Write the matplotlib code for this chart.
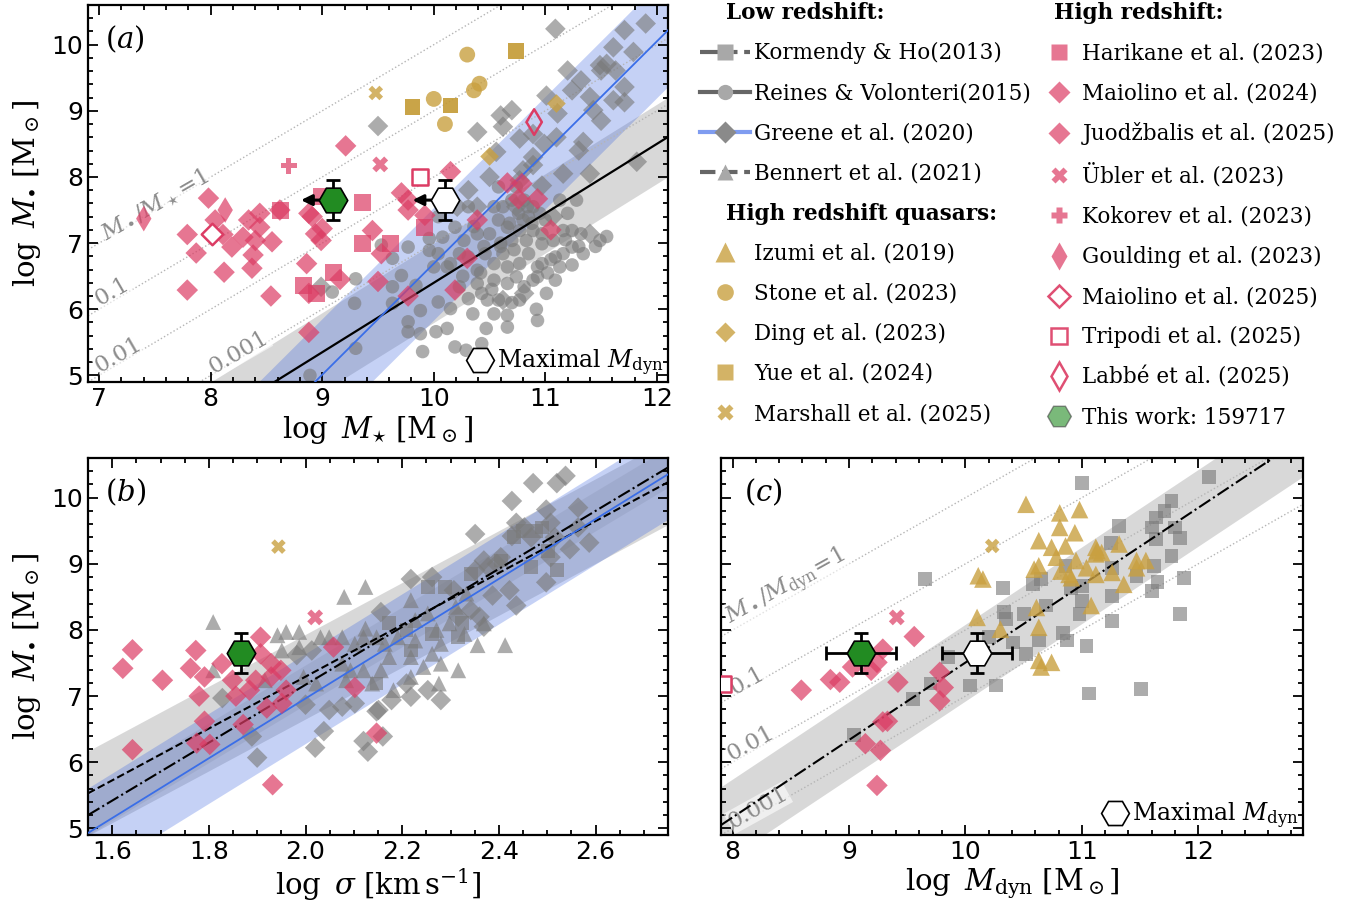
import numpy as np
import matplotlib
matplotlib.use('Agg')
import matplotlib.pyplot as plt
from matplotlib.lines import Line2D

plt.rcParams['font.family'] = ['DejaVu Serif']
plt.rcParams['mathtext.fontset'] = 'dejavuserif'

##################################################################### colours / styles
PINK = '#dc3c64'
GOLD = '#c9a040'
GRAY = '#7a7a7a'
BLUE = '#3a6ee8'
GREEN = '#228b22'

##################################################################### panel (a) data : log Mstar vs log Mbh
a_rv15_x = [9.30, 9.29, 9.09, 9.30, 8.89, 9.53, 9.63, 9.77, 9.71, 9.63, 9.63, 9.77, 9.77, 9.88, 9.84, 9.88,
            9.90, 10.02, 10.12, 10.04, 10.15, 10.00, 9.96, 9.96, 10.08, 10.19, 10.12, 10.27, 10.31, 10.39,
            10.39, 10.43, 10.31, 10.35, 10.19, 10.29, 10.43, 10.66, 10.66, 10.93, 10.48, 10.54, 10.46, 10.50,
            10.58, 10.62, 10.70, 10.76, 10.77, 10.70, 10.62, 10.66, 10.74, 10.81, 10.89, 10.93, 10.85, 10.97,
            10.89, 10.85, 11.00, 11.07, 11.09, 11.13, 11.24, 11.16, 11.24, 11.32, 11.16, 11.20, 11.28, 11.34,
            11.49, 11.01, 11.09, 10.58, 10.31, 10.04, 10.77, 10.54, 10.47, 10.23, 10.23, 10.15, 10.54, 10.77,
            10.97, 10.89, 10.74, 10.83, 10.97, 10.66, 10.39, 10.54, 10.81, 10.66, 10.93, 10.58, 11.24, 11.13,
            10.04, 11.45, 11.55, 10.60, 10.72, 10.88, 11.05, 10.45, 10.68, 10.80, 10.95, 11.02, 10.52, 10.36,
            10.60, 10.84, 11.18, 10.70, 10.92, 10.42, 10.26, 11.30]
a_rv15_y = [6.46, 6.09, 6.26, 5.41, 5.00, 6.97, 6.77, 6.94, 6.51, 6.34, 6.09, 5.81, 5.66, 5.98, 6.36, 5.63,
            5.36, 5.66, 5.71, 6.11, 6.01, 6.64, 6.89, 7.07, 7.09, 7.24, 6.64, 7.04, 6.79, 6.59,
            6.39, 6.24, 6.16, 5.93, 5.43, 5.38, 5.48, 5.91, 5.73, 5.83, 6.14, 6.44, 6.84, 7.14,
            7.35, 7.55, 7.65, 7.45, 7.19, 7.04, 6.84, 6.64, 6.49, 6.34, 6.44, 6.64, 6.84, 6.99,
            7.19, 7.40, 7.35, 7.04, 6.79, 6.64, 6.67, 6.84, 6.94, 7.14, 7.19, 7.45, 7.65, 6.84,
            7.04, 6.24, 6.44, 7.85, 7.55, 7.40, 6.14, 5.93, 5.71, 6.34, 6.84, 6.69, 6.69, 6.69,
            6.69, 7.55, 7.85, 7.04, 7.14, 6.39, 7.14, 7.55, 7.65, 7.24, 6.49, 6.14, 7.19, 7.65,
            6.84, 6.95, 7.10, 7.00, 6.90, 7.30, 6.75, 6.95, 7.30, 7.35, 7.45, 6.55, 6.30, 7.25,
            6.95, 7.55, 7.05, 6.10, 6.00, 6.55, 6.50, 6.95]
a_gr20_x = [9.50, 10.39, 10.60, 10.70, 10.62, 10.77, 10.56, 10.89, 11.01, 10.99, 11.10, 11.11, 11.20, 11.24,
            11.32, 11.40, 11.43, 11.50, 11.55, 11.61, 11.71, 11.90, 11.79, 11.63, 11.71, 11.71, 11.61, 11.49,
            11.34, 11.40, 11.16, 10.89, 10.77, 10.50, 10.31, 10.21, 10.39, 10.74, 10.97, 11.09, 10.89, 11.82,
            11.40, 10.81, 10.62, 8.99, 11.07, 10.80, 11.30, 11.50]
a_gr20_y = [8.77, 8.68, 8.93, 9.01, 8.76, 8.58, 8.38, 8.65, 9.23, 8.50, 8.60, 8.96, 9.61, 9.31,
            9.46, 9.21, 9.01, 9.61, 9.71, 9.96, 10.22, 10.32, 9.89, 9.61, 9.36, 9.13, 9.16, 9.69,
            8.53, 8.05, 8.05, 8.18, 7.95, 8.00, 7.80, 7.55, 7.55, 7.55, 7.87, 10.24, 8.30, 8.23,
            7.14, 6.24, 6.14, 6.34, 7.40, 8.10, 8.40, 8.85]

a_pink_dia_x = [7.79, 7.87, 7.79, 7.98, 8.04, 8.11, 8.19, 8.12, 8.29, 8.34, 8.44, 8.44, 8.40, 8.38, 8.37,
                8.55, 8.54, 8.62, 8.86, 8.88, 8.91, 8.94, 8.99, 9.00, 8.88, 9.16, 9.21, 8.88, 9.45, 9.50,
                9.53, 9.71, 9.77, 9.77, 9.92, 10.15, 9.77, 10.19, 10.30, 10.39, 10.66, 10.76, 10.93, 11.05,
                10.79]
a_pink_dia_y = [7.13, 6.85, 6.29, 7.68, 7.35, 7.13, 6.94, 6.56, 7.09, 7.35, 7.45, 7.24, 7.04, 6.82, 6.62,
                7.02, 6.20, 7.50, 6.69, 7.45, 7.40, 7.14, 7.04, 7.22, 6.24, 6.45, 8.47, 5.65, 7.19, 6.42,
                6.84, 7.76, 7.50, 7.65, 7.42, 8.08, 6.20, 6.29, 6.77, 7.35, 7.91, 7.67, 7.67, 7.20,
                7.90]
a_pink_sq_x = [8.63, 8.99, 9.36, 9.36, 9.61, 9.10, 8.83, 8.95, 9.92]
a_pink_sq_y = [7.50, 7.71, 7.62, 6.99, 6.99, 6.56, 6.36, 6.24, 7.24]
a_ubler = ([9.52], [8.19])
a_kokorev = ([8.70], [8.17])
a_goulding = ([8.13, 7.40], [7.50, 7.37])
a_maiolino25 = ([8.01], [7.14])
a_tripodi = ([9.88], [8.00])
a_labbe = ([10.90], [8.83])
a_stone = ([10.30, 10.00, 10.36, 10.41, 10.10], [9.85, 9.18, 9.31, 9.41, 8.80])
a_yue = ([10.74, 9.81, 10.15], [9.90, 9.06, 9.08])
a_ding = ([10.50, 11.10], [8.31, 9.11])
a_marshall = ([9.48], [9.27])

##################################################################### panel (b) data : log sigma vs log Mbh
b_pink_dia_x = [1.622, 1.642, 1.704, 1.642, 1.762, 1.773, 1.791, 1.780, 1.791, 1.775, 1.802, 1.827, 1.849,
                1.856, 1.871, 1.907, 1.907, 1.884, 1.897, 1.920, 1.929, 1.929, 1.949, 1.951, 1.960, 1.932,
                2.058, 2.102, 2.147]
b_pink_dia_y = [7.42, 7.70, 7.24, 6.19, 7.42, 7.69, 7.29, 7.00, 6.62, 6.29, 6.27, 7.49, 7.24,
                7.00, 6.57, 7.89, 7.64, 7.09, 7.24, 6.82, 7.49, 7.29, 7.39, 6.89, 7.09, 5.66,
                7.74, 7.13, 6.44]
b_ubler = ([2.02], [8.19])
b_marshall = ([1.944], [9.26])
b_be21_x = [1.809, 2.124, 2.080, 2.031, 1.987, 1.960, 1.942, 1.951, 1.987, 2.049, 2.076, 2.102, 2.124, 2.147,
            2.164, 2.191, 2.218, 2.227, 2.253, 2.271, 2.280, 2.298, 2.311, 2.329, 2.356, 2.413, 2.276, 2.280,
            2.244, 2.218, 2.173, 2.156, 2.138, 2.120, 2.093, 2.084, 2.076, 2.022, 1.996, 1.916, 1.809, 2.218,
            2.182, 2.316, 2.262, 2.120, 2.227, 2.369, 2.333]
b_be21_y = [8.12, 8.65, 8.50, 7.89, 7.97, 7.97, 7.92, 7.69, 7.74, 7.89, 7.89, 7.79, 8.02, 7.89,
            7.79, 7.89, 8.45, 8.15, 8.25, 8.00, 7.79, 8.10, 8.35, 7.94, 7.77, 7.77, 7.19, 7.49,
            7.44, 7.59, 7.59, 7.39, 7.19, 7.39, 7.39, 7.24, 7.49, 7.19, 7.29, 7.24, 7.39, 7.29,
            7.09, 7.39, 7.64, 7.89, 7.84, 8.10, 8.55]
b_gr20_x = [1.828, 1.900, 1.889, 2.020, 2.038, 2.049, 2.000, 2.076, 2.102, 2.129, 2.120, 2.151, 2.147, 2.160,
            2.178, 2.218, 2.253, 2.280, 2.209, 1.982, 2.013, 2.156, 2.218, 2.262, 2.307, 2.316, 2.342, 2.351,
            2.378, 2.360, 2.369, 2.387, 2.404, 2.422, 2.436, 2.351, 2.427, 2.436, 2.427, 2.453, 2.467, 2.498,
            2.507, 2.516, 2.498, 2.507, 2.520, 2.471, 2.538, 2.547, 2.564, 2.587, 2.564, 2.369, 2.396]
b_gr20_y = [6.97, 6.07, 6.39, 6.22, 6.47, 6.79, 6.87, 6.84, 6.89, 6.16, 6.32, 6.79, 6.77, 6.39,
            6.94, 6.99, 7.09, 6.94, 7.19, 7.62, 7.69, 8.27, 8.77, 8.80, 8.60, 8.20, 8.30, 8.90,
            8.95, 8.20, 8.05, 8.52, 9.10, 8.60, 8.37, 9.45, 9.95, 9.62, 9.42, 9.55, 9.40, 9.82,
            9.62, 9.40, 8.72, 9.10, 10.22, 10.22, 10.33, 9.22, 9.85, 9.32, 9.55, 9.05, 9.00]
b_kh13_x = [2.431, 2.449, 2.467, 2.502, 2.404, 2.342, 2.253, 2.262, 2.209, 2.173, 2.316, 2.476, 2.489, 2.520,
            2.147, 2.289, 2.218, 2.324]
b_kh13_y = [9.40, 9.50, 8.95, 9.20, 9.05, 8.85, 8.65, 7.94, 8.00, 8.10, 7.89, 9.50, 9.55, 8.90,
            7.19, 8.65, 7.69, 8.10]

##################################################################### panel (c) data : log Mdyn vs log Mbh
c_gray_sq_x = [11.00, 12.09, 11.77, 11.32, 11.64, 11.71, 11.60, 11.80, 11.84, 11.64, 11.25, 11.77, 11.62, 11.47,
               11.88, 11.65, 11.60, 11.26, 11.26, 11.26, 11.84, 11.00, 11.00, 10.98, 10.91, 10.86, 10.84, 10.87,
               11.04, 10.69, 10.63, 10.65, 10.58, 10.50, 10.52, 10.33, 10.32, 10.35, 10.41, 10.20, 9.65, 9.85,
               9.70, 9.55, 10.04, 10.26, 11.06, 11.51, 9.04]
c_gray_sq_y = [10.22, 10.31, 9.95, 9.57, 9.70, 9.80, 9.55, 9.55, 9.39, 9.37, 9.32, 9.12, 8.97, 8.82,
               8.78, 8.72, 8.59, 8.94, 8.52, 8.14, 8.24, 8.67, 8.44, 8.24, 8.64, 8.97, 7.96, 7.84,
               7.76, 8.37, 7.84, 8.77, 8.69, 8.24, 7.64, 8.27, 8.64, 8.17, 7.81, 7.89, 8.77, 7.59,
               7.19, 6.96, 7.16, 7.16, 7.04, 7.11, 6.41]
c_izumi_x = [10.52, 10.81, 10.98, 10.81, 10.94, 10.63, 10.74, 10.86, 10.78, 11.12, 11.13, 11.12, 11.17, 11.32,
             11.47, 11.55, 11.47, 10.95, 11.04, 10.89, 10.63, 10.59, 10.11, 10.15, 10.82, 11.12, 11.26, 11.36,
             11.08, 10.61, 10.10, 10.30, 10.63, 10.63, 10.74, 10.65, 10.91]
c_izumi_y = [9.90, 9.77, 9.82, 9.55, 9.47, 9.35, 9.25, 9.27, 9.10, 9.25, 9.20, 9.15, 9.17, 9.30,
             9.05, 9.05, 8.94, 9.05, 8.94, 8.84, 8.97, 8.92, 8.82, 8.77, 8.89, 8.84, 8.87, 8.69,
             8.37, 8.34, 8.19, 8.01, 8.04, 7.54, 7.51, 7.44, 8.79]
c_marshall = ([10.23], [9.27])
c_ubler = ([9.41], [8.19])
c_pink_dia_x = [9.56, 9.29, 9.24, 9.19, 9.03, 8.84, 8.92, 8.59, 9.42, 9.78, 9.81, 9.78, 9.29, 9.33, 9.14,
                9.27, 9.24]
c_pink_dia_y = [7.90, 7.71, 7.51, 7.39, 7.44, 7.25, 7.21, 7.09, 7.21, 7.36, 7.13, 6.93, 6.61, 6.62, 6.28,
                6.18, 5.65]
c_tripodi = ([7.92], [7.18])

##################################################################### this work (159717)
this_bh = 7.65
this_bh_err = 0.3
this_mstar = 9.10
this_mdyn_max = 10.10
this_mdyn = 9.10
this_mdyn_err = 0.3
this_logsigma = 1.867

##################################################################### scaling relations  (slope, pivot x, value at pivot, scatter)
rv15 = (1.05, 11.0, 7.45, 0.60)
gr20_mstar = (1.68, 12.0, 10.05, 0.85)
kh13_sigma = (4.38, 2.301, 8.49, 0.30)
be21_sigma = (3.92, 1.55, 5.53, 0.64)
gr20_sigma = (4.52, 1.55, 4.93, 0.68)
mdyn_rel = (1.17, 7.9, 5.05, 0.58)

ratio_levels = [0, -1, -2, -3]
ratio_names = ['1', '0.1', '0.01', '0.001']

##################################################################################################
fig = plt.figure(figsize=(13.59, 9.10), dpi=100)
W, H = 1359.0, 910.0
ax_a = fig.add_axes([88 / W, 1 - 382 / H, 580 / W, 377 / H])
ax_b = fig.add_axes([88 / W, 1 - 835 / H, 580 / W, 377 / H])
ax_c = fig.add_axes([721 / W, 1 - 835 / H, 582 / W, 377 / H])

pk = dict(color=PINK, alpha=0.7, edgecolors='none')
gd = dict(color=GOLD, alpha=0.8, edgecolors='none')
gy = dict(color=GRAY, alpha=0.62, edgecolors='none')


def relation(ax, rel, xlim, color, ls, lw, band_color, band_alpha, z=3):
    slope, x0, y0, sc = rel
    xx = np.linspace(xlim[0], xlim[1], 50)
    yy = y0 + slope * (xx - x0)
    if band_color is not None:
        ax.fill_between(xx, yy - sc, yy + sc, color=band_color, alpha=band_alpha, lw=0, zorder=0)
    if color is not None:
        ax.plot(xx, yy, color=color, ls=ls, lw=lw, zorder=z)


def ratio_lines(ax, xlim, label_pos, first_label):
    xx = np.array(xlim)
    for lev in ratio_levels:
        ax.plot(xx, xx + lev, color='#b5b5b5', ls=':', lw=1.0, zorder=1)
    for (lx, ly, rot), nm in zip(label_pos, [first_label] + ratio_names[1:]):
        ax.text(lx, ly, nm, rotation=rot, color='#8c8c8c', fontsize=16.5, ha='center', va='center',
                zorder=2, bbox=dict(facecolor='white', edgecolor='none', alpha=0.6, pad=0.5))


def style(ax, xlim, xmaj, xmin):
    ax.set_xlim(*xlim)
    ax.set_ylim(4.9, 10.6)
    ax.set_xticks(np.arange(np.ceil(xlim[0] / xmaj) * xmaj, xlim[1] + 1e-6, xmaj))
    ax.xaxis.set_minor_locator(plt.MultipleLocator(xmin))
    ax.set_yticks([5, 6, 7, 8, 9, 10])
    ax.yaxis.set_minor_locator(plt.MultipleLocator(0.2))
    ax.tick_params(which='both', direction='in', top=True, right=True, labelsize=18,
                   labelfontfamily='DejaVu Sans', width=1.3)
    ax.tick_params(which='major', length=7)
    ax.tick_params(which='minor', length=3.5)
    for s in ax.spines.values():
        s.set_linewidth(1.6)


def this_work(ax, x, open_x=None, xerr=None, arrows=False):
    ax.errorbar(x, this_bh, yerr=this_bh_err, xerr=xerr, fmt='none', ecolor='k', elinewidth=2,
                capsize=5, capthick=2, zorder=7)
    ax.scatter([x], [this_bh], marker='H', s=420, color=GREEN, edgecolors='k', linewidths=1.2, zorder=8)
    if open_x is not None:
        ax.errorbar(open_x, this_bh, yerr=this_bh_err, xerr=xerr, fmt='none', ecolor='k', elinewidth=2,
                    capsize=5, capthick=2, zorder=7)
        ax.scatter([open_x], [this_bh], marker='H', s=420, color='white', edgecolors='k', linewidths=1.2,
                   zorder=8)
    if arrows:
        for xx in [x, open_x]:
            ax.annotate('', xy=(xx - 0.29, this_bh), xytext=(xx, this_bh),
                        arrowprops=dict(arrowstyle='-|>', color='k', lw=2.2, mutation_scale=16,
                                        shrinkA=0, shrinkB=0), zorder=6)


def maximal_key(ax):
    h = Line2D([], [], ls='none', marker='H', markersize=20, markerfacecolor='white',
               markeredgecolor='k', markeredgewidth=1.2)
    ax.legend([h], [r'Maximal $M_{\mathrm{dyn}}$'], loc='lower right', frameon=False, fontsize=17,
              handletextpad=0.15, borderaxespad=0.05, borderpad=0.1, handlelength=1.2)


########################################################################################## panel (a)
xa = (6.9, 12.1)
relation(ax_a, rv15, xa, 'k', '-', 1.6, '#808080', 0.3)
relation(ax_a, gr20_mstar, xa, BLUE, '-', 1.3, 'royalblue', 0.3)
ratio_lines(ax_a, xa, [(7.5, 7.58, 30), (7.12, 6.27, 30), (7.17, 5.31, 30), (8.25, 5.35, 30)],
            r'$M_\bullet/M_\star\!=\!1$')
ax_a.scatter(a_rv15_x, a_rv15_y, marker='o', s=95, **gy, zorder=2)
ax_a.scatter(a_gr20_x, a_gr20_y, marker='D', s=110, **gy, zorder=2)
ax_a.scatter(a_pink_dia_x, a_pink_dia_y, marker='D', s=120, **pk, zorder=4)
ax_a.scatter(a_pink_sq_x, a_pink_sq_y, marker='s', s=150, **pk, zorder=4)
ax_a.scatter(*a_ubler, marker='X', s=130, **pk, zorder=4)
ax_a.scatter(*a_kokorev, marker='P', s=130, **pk, zorder=4)
ax_a.scatter(*a_goulding, marker='d', s=170, **pk, zorder=4)
ax_a.scatter(*a_maiolino25, marker='D', s=120, facecolors='white', edgecolors=PINK, linewidths=1.8, zorder=4)
ax_a.scatter(*a_tripodi, marker='s', s=130, facecolors='white', edgecolors=PINK, linewidths=1.8, zorder=4)
ax_a.scatter(*a_labbe, marker='d', s=170, facecolors='none', edgecolors=PINK, linewidths=1.8, zorder=4)
ax_a.scatter(*a_stone, marker='o', s=130, **gd, zorder=4)
ax_a.scatter(*a_yue, marker='s', s=130, color='#c49a34', alpha=0.9, edgecolors='none', zorder=4)
ax_a.scatter(*a_ding, marker='D', s=90, **gd, zorder=4)
ax_a.scatter(*a_marshall, marker='X', s=110, **gd, zorder=4)
this_work(ax_a, this_mstar, open_x=this_mdyn_max, arrows=True)
style(ax_a, xa, 1, 0.2)
ax_a.set_xlabel(r'$\log\ M_{\star}\ [\mathrm{M}_\odot]$', fontsize=21, labelpad=2)
ax_a.set_ylabel(r'$\log\ M_{\bullet}\ [\mathrm{M}_\odot]$', fontsize=21, labelpad=6)
ax_a.text(0.03, 0.95, r'$(a)$', transform=ax_a.transAxes, fontsize=21, va='top')
maximal_key(ax_a)

########################################################################################## panel (b)
xb = (1.55, 2.75)
relation(ax_b, be21_sigma, xb, 'k', '--', 1.5, '#808080', 0.3)
relation(ax_b, gr20_sigma, xb, BLUE, '-', 1.3, 'royalblue', 0.3)
relation(ax_b, kh13_sigma, xb, 'k', '-.', 1.5, '#56607a', 0.12)
ax_b.scatter(b_be21_x, b_be21_y, marker='^', s=130, **gy, zorder=2)
ax_b.scatter(b_gr20_x, b_gr20_y, marker='D', s=110, **gy, zorder=2)
ax_b.scatter(b_kh13_x, b_kh13_y, marker='s', s=100, **gy, zorder=2)
ax_b.scatter(b_pink_dia_x, b_pink_dia_y, marker='D', s=120, **pk, zorder=4)
ax_b.scatter(*b_ubler, marker='X', s=130, **pk, zorder=4)
ax_b.scatter(*b_marshall, marker='X', s=110, **gd, zorder=4)
this_work(ax_b, this_logsigma)
style(ax_b, xb, 0.2, 0.05)
ax_b.set_xticks([1.6, 1.8, 2.0, 2.2, 2.4, 2.6])
ax_b.set_xticklabels(['1.6', '1.8', '2.0', '2.2', '2.4', '2.6'])
ax_b.set_xlabel(r'$\log\ \sigma\ [\mathrm{km\,s^{-1}}]$', fontsize=21, labelpad=2)
ax_b.set_ylabel(r'$\log\ M_{\bullet}\ [\mathrm{M}_\odot]$', fontsize=21, labelpad=6)
ax_b.text(0.03, 0.95, r'$(b)$', transform=ax_b.transAxes, fontsize=21, va='top')

########################################################################################## panel (c)
xc = (7.9, 12.9)
relation(ax_c, mdyn_rel, xc, 'k', '-.', 1.5, '#808080', 0.3)
ratio_lines(ax_c, xc, [(8.46, 8.64, 29), (8.13, 7.23, 29), (8.16, 6.29, 29), (8.22, 5.31, 29)],
            r'$M_\bullet/M_{\mathrm{dyn}}\!=\!1$')
ax_c.scatter(c_gray_sq_x, c_gray_sq_y, marker='s', s=100, **gy, zorder=2)
ax_c.scatter(c_izumi_x, c_izumi_y, marker='^', s=160, **gd, zorder=4)
ax_c.scatter(*c_marshall, marker='X', s=110, **gd, zorder=4)
ax_c.scatter(*c_ubler, marker='X', s=130, **pk, zorder=4)
ax_c.scatter(c_pink_dia_x, c_pink_dia_y, marker='D', s=120, **pk, zorder=4)
ax_c.scatter(*c_tripodi, marker='s', s=130, facecolors='white', edgecolors=PINK, linewidths=1.8, zorder=4)
this_work(ax_c, this_mdyn, open_x=this_mdyn_max, xerr=this_mdyn_err)
style(ax_c, xc, 1, 0.2)
ax_c.tick_params(labelleft=False)
ax_c.set_xlabel(r'$\log\ M_{\mathrm{dyn}}\ [\mathrm{M}_\odot]$', fontsize=21, labelpad=2)
ax_c.text(0.04, 0.95, r'$(c)$', transform=ax_c.transAxes, fontsize=21, va='top')
maximal_key(ax_c)

########################################################################################## legends
blank = Line2D([], [], ls='none', marker=None, color='none')


def mk(marker, color, alpha, ms, fill=True):
    return Line2D([], [], ls='none', marker=marker, markersize=ms, alpha=alpha,
                  markerfacecolor=color if fill else 'white', markeredgecolor=color if not fill else 'none',
                  markeredgewidth=1.8)


col1_handles = [blank,
                Line2D([], [], color='#666666', ls='-.', lw=3, marker='s', ms=11, mfc='#a8a8a8', mec='none'),
                Line2D([], [], color='#666666', ls='-', lw=3, marker='o', ms=11, mfc='#a8a8a8', mec='none'),
                Line2D([], [], color='#7f9cf0', ls='-', lw=3, marker='D', ms=11, mfc='#8a8a8a', mec='none'),
                Line2D([], [], color='#666666', ls='--', lw=3, marker='^', ms=12, mfc='#a8a8a8', mec='none'),
                blank,
                mk('^', GOLD, 0.8, 14), mk('o', GOLD, 0.8, 12), mk('D', GOLD, 0.8, 10),
                mk('s', GOLD, 0.8, 12), mk('X', GOLD, 0.8, 11)]
col1_labels = ['Low redshift:', 'Kormendy & Ho(2013)', 'Reines & Volonteri(2015)', 'Greene et al. (2020)',
               'Bennert et al. (2021)', 'High redshift quasars:', 'Izumi et al. (2019)', 'Stone et al. (2023)',
               'Ding et al. (2023)', 'Yue et al. (2024)', 'Marshall et al. (2025)']
col2_handles = [blank,
                mk('s', PINK, 0.7, 12), mk('D', PINK, 0.7, 11), mk('D', PINK, 0.7, 11),
                mk('X', PINK, 0.7, 11), mk('P', PINK, 0.7, 12), mk('d', PINK, 0.7, 14),
                mk('D', PINK, 0.9, 11, fill=False), mk('s', PINK, 0.9, 12, fill=False),
                mk('d', PINK, 0.9, 14, fill=False),
                Line2D([], [], ls='none', marker='H', markersize=17, markerfacecolor=GREEN, alpha=0.6,
                       markeredgecolor='#444444')]
col2_labels = ['High redshift:', 'Harikane et al. (2023)', 'Maiolino et al. (2024)', 'Juodžbalis et al. (2025)',
               'Übler et al. (2023)', 'Kokorev et al. (2023)', 'Goulding et al. (2023)', 'Maiolino et al. (2025)',
               'Tripodi et al. (2025)', 'Labbé et al. (2025)', 'This work: 159717']

leg1 = fig.legend(col1_handles, col1_labels, loc='upper left', bbox_to_anchor=(700 / W, 1 - 2 / H),
                  frameon=False, fontsize=15.5, handlelength=2.3, handletextpad=0.2, labelspacing=0.84,
                  borderaxespad=0, borderpad=0)
leg2 = fig.legend(col2_handles, col2_labels, loc='upper left', bbox_to_anchor=(1048 / W, 1 - 2 / H),
                  frameon=False, fontsize=15.5, handlelength=1.0, handletextpad=0.6, labelspacing=0.84,
                  borderaxespad=0, borderpad=0)
for leg, idx in [(leg1, [0, 5]), (leg2, [0])]:
    for i in idx:
        t = leg.get_texts()[i]
        t.set_fontweight('bold')
        t.set_position((-28, 0))

fig.savefig('out.png', dpi=100)
